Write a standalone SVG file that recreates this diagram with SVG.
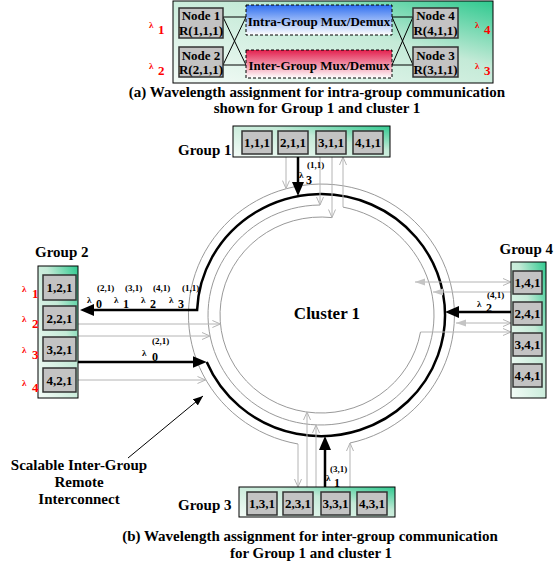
<svg xmlns="http://www.w3.org/2000/svg" width="555" height="569" viewBox="0 0 555 569">
<defs>
<linearGradient id="grp" x1="0" y1="1" x2="1" y2="0">
<stop offset="0" stop-color="#f4fbf7"/><stop offset="0.6" stop-color="#c4ead7"/><stop offset="1" stop-color="#2fc98f"/>
</linearGradient>
<linearGradient id="blue" x1="0" y1="0" x2="0" y2="1">
<stop offset="0" stop-color="#2f6ff0"/><stop offset="1" stop-color="#ffffff"/>
</linearGradient>
<linearGradient id="red" x1="0" y1="0" x2="0" y2="1">
<stop offset="0" stop-color="#e3204e"/><stop offset="1" stop-color="#ffffff"/>
</linearGradient>
<marker id="ab" markerUnits="userSpaceOnUse" markerWidth="14" markerHeight="12" viewBox="0 0 14 12" refX="3" refY="6" orient="auto"><path d="M0,0 L14,6 L0,12 z" fill="#000"/></marker>
<marker id="ap" markerUnits="userSpaceOnUse" markerWidth="10" markerHeight="8" viewBox="0 0 10 8" refX="10" refY="4" orient="auto"><path d="M0,0 L10,4 L0,8 z" fill="#000"/></marker>
<marker id="ag" markerUnits="userSpaceOnUse" markerWidth="10" markerHeight="8" viewBox="0 0 10 8" refX="9" refY="4" orient="auto"><path d="M1,0.5 L9,4 L1,7.5" fill="none" stroke="#b4b4b4" stroke-width="1"/></marker>
<marker id="af" markerUnits="userSpaceOnUse" markerWidth="10" markerHeight="8" viewBox="0 0 10 8" refX="10" refY="4" orient="auto-start-reverse"><path d="M0,0.5 L10,4 L0,7.5 z" fill="#c4c4c4"/></marker>
<style>
text{font-family:"Liberation Serif","Times New Roman",serif;font-weight:bold;fill:#000}
.t14{font-size:15px}
.cap{font-size:15px;text-anchor:middle}
.nd{font-size:13px;text-anchor:middle}
.sm{font-size:9px}
.lam{font-size:9px}
.dg{font-size:13px}
.d12{font-size:12px}
.red{fill:#ff0000}
.node{fill:#c3c3c3;stroke:#333;stroke-width:1.5}
.gbox{fill:url(#grp);stroke:#000;stroke-width:1}
.ring{fill:none;stroke:#999;stroke-width:1}
.gl{fill:none;stroke:#b4b4b4;stroke-width:1}
.bl{fill:none;stroke:#000;stroke-width:2.5}
.thin{fill:none;stroke:#000;stroke-width:1}
</style>
</defs>

<!-- (a) intra-group -->
<g id="panel-a">
<rect x="173" y="1" width="320" height="82" class="gbox"/>
<g class="thin">
<line x1="223" y1="17" x2="246" y2="17"/><line x1="223" y1="17" x2="246" y2="65"/>
<line x1="223" y1="65" x2="246" y2="17"/><line x1="223" y1="65" x2="246" y2="65"/>
<line x1="392" y1="17" x2="413" y2="17"/><line x1="392" y1="17" x2="413" y2="65"/>
<line x1="392" y1="65" x2="413" y2="17"/><line x1="392" y1="65" x2="413" y2="65"/>
</g>
</g>
<g id="node1a"><rect x="179" y="8" width="44" height="30" class="node"/><text x="201" y="20" class="nd">Node 1</text><text x="201" y="34.5" class="nd">R(1,1,1)</text></g>
<g id="node2a"><rect x="179" y="47" width="44" height="30" class="node"/><text x="201" y="59.5" class="nd">Node 2</text><text x="201" y="74" class="nd">R(2,1,1)</text></g>
<g id="node4a"><rect x="413" y="8" width="45" height="30" class="node"/><text x="435.5" y="20" class="nd">Node 4</text><text x="435.5" y="34.5" class="nd">R(4,1,1)</text></g>
<g id="node3a"><rect x="413" y="47" width="45" height="30" class="node"/><text x="435.5" y="59.5" class="nd">Node 3</text><text x="435.5" y="74" class="nd">R(3,1,1)</text></g>
<g id="intra"><rect x="246" y="5" width="146" height="30" fill="url(#blue)" stroke="#000" stroke-width="1" stroke-dasharray="3,2"/><text x="319" y="26" class="nd">Intra-Group Mux/Demux</text></g>
<g id="inter"><rect x="246" y="50" width="146" height="28" fill="url(#red)" stroke="#000" stroke-width="1" stroke-dasharray="3,2"/><text x="319" y="69.5" class="nd">Inter-Group Mux/Demux</text></g>
<g id="lambda-a">
<text x="149" y="28" class="lam red">λ</text><text x="158" y="34" class="dg red">1</text>
<text x="149" y="69" class="lam red">λ</text><text x="158" y="75" class="dg red">2</text>
<text x="475" y="28" class="lam red">λ</text><text x="484" y="34" class="dg red">4</text>
<text x="475" y="69" class="lam red">λ</text><text x="484" y="75" class="dg red">3</text>
</g>
<text x="317" y="97" class="cap">(a) Wavelength assignment for intra-group communication</text>
<text x="317" y="113" class="cap">shown for Group 1 and cluster 1</text>

<!-- connectors -->
<g id="connectors">
<path class="ring" d="M350,443 A133,131 0 1 0 298,444"/>
<path class="ring" d="M320,205 A113,110 0 1 0 343,207.1"/>
<path class="ring" d="M332,217.6 A101,98 0 1 0 420.5,332"/>
<path class="bl" d="M206.7,362 A124,121 0 1 0 197.1,310 L91,310" marker-end="url(#ab)"/>
<line class="gl" x1="286" y1="157" x2="286" y2="188.6" marker-end="url(#ag)"/>
<line class="bl" x1="298" y1="157" x2="298" y2="185" marker-end="url(#ab)"/>
<line class="gl" x1="320" y1="157" x2="320" y2="205" marker-end="url(#ag)"/>
<line class="gl" x1="332" y1="157" x2="332" y2="217.5" marker-end="url(#ag)"/>
<line class="gl" x1="343" y1="207" x2="343" y2="157" marker-end="url(#ag)"/>
<line class="gl" x1="298" y1="444" x2="298" y2="487" marker-end="url(#ag)"/>
<line class="gl" x1="307" y1="487" x2="307" y2="412" marker-end="url(#ag)"/>
<line class="gl" x1="316" y1="487" x2="316" y2="425" marker-end="url(#ag)"/>
<line class="bl" x1="325" y1="487" x2="325" y2="447" marker-end="url(#ab)"/>
<line class="gl" x1="350" y1="487" x2="350" y2="443" marker-end="url(#ag)"/>
<line class="gl" x1="78" y1="324" x2="220.4" y2="324" marker-end="url(#ag)"/>
<line class="gl" x1="78" y1="336" x2="210" y2="336" marker-end="url(#ag)"/>
<line class="bl" x1="78" y1="362" x2="195.7" y2="362" marker-end="url(#ab)"/>
<line class="gl" x1="78" y1="380" x2="205.5" y2="380" marker-end="url(#ag)"/>
<line class="gl" x1="415" y1="282" x2="511" y2="282" marker-start="url(#af)" marker-end="url(#ag)"/>
<line class="gl" x1="433" y1="292" x2="511" y2="292" marker-start="url(#af)"/>
<line class="bl" x1="511" y1="312" x2="456" y2="312" marker-end="url(#ab)"/>
<line class="gl" x1="456" y1="323" x2="511" y2="323" marker-start="url(#af)" marker-end="url(#ag)"/>
<line class="gl" x1="420.5" y1="332" x2="511" y2="332" marker-end="url(#ag)"/>
<line class="thin" x1="128" y1="458" x2="203" y2="396" marker-end="url(#ap)"/>
</g>

<g id="labels">
<text x="307" y="168" class="sm">(1,1)</text>
<text x="299" y="178" class="lam">λ</text><text x="306" y="184" class="d12">3</text>
<text x="97" y="291" class="sm">(2,1)</text><text x="125" y="291" class="sm">(3,1)</text><text x="153" y="291" class="sm">(4,1)</text><text x="182" y="291" class="sm">(1,1)</text>
<text x="87" y="303" class="lam">λ</text><text x="96" y="308" class="d12">0</text>
<text x="114" y="303" class="lam">λ</text><text x="123" y="308" class="d12">1</text>
<text x="141" y="303" class="lam">λ</text><text x="150" y="308" class="d12">2</text>
<text x="169" y="303" class="lam">λ</text><text x="178" y="308" class="d12">3</text>
<text x="152" y="344" class="sm">(2,1)</text>
<text x="142" y="356" class="lam">λ</text><text x="152" y="361" class="d12">0</text>
<text x="487" y="298" class="sm">(4,1)</text>
<text x="477" y="307" class="lam">λ</text><text x="486" y="312" class="d12">2</text>
<text x="330" y="472" class="sm">(3,1)</text>
<text x="326" y="481" class="lam">λ</text><text x="334" y="487" class="d12">1</text>
<text x="327" y="319" style="font-size:17px;text-anchor:middle">Cluster 1</text>
<text x="79" y="470" class="t14" text-anchor="middle">Scalable Inter-Group</text>
<text x="79" y="487" class="t14" text-anchor="middle">Remote</text>
<text x="79" y="504" class="t14" text-anchor="middle">Interconnect</text>
<text x="310" y="541" class="cap">(b) Wavelength assignment for inter-group communication</text>
<text x="311" y="558" class="cap">for Group 1 and cluster 1</text>
</g>

<g id="group1">
<text x="178" y="155" class="t14">Group 1</text>
<rect x="233" y="126" width="157" height="31" class="gbox"/>
<rect x="242" y="131" width="30" height="23" class="node"/><text x="257" y="147" class="nd">1,1,1</text>
<rect x="278" y="131" width="30" height="23" class="node"/><text x="293" y="147" class="nd">2,1,1</text>
<rect x="316" y="131" width="30" height="23" class="node"/><text x="331" y="147" class="nd">3,1,1</text>
<rect x="353" y="131" width="30" height="23" class="node"/><text x="368" y="147" class="nd">4,1,1</text>
</g>

<g id="group2">
<text x="35" y="257" class="t14">Group 2</text>
<rect x="38" y="266" width="40" height="132" class="gbox"/>
<rect x="43" y="275" width="33" height="25" class="node"/><text x="59.5" y="292" class="nd">1,2,1</text>
<rect x="43" y="306" width="33" height="24" class="node"/><text x="59.5" y="323" class="nd">2,2,1</text>
<rect x="43" y="337" width="33" height="24" class="node"/><text x="59.5" y="354" class="nd">3,2,1</text>
<rect x="43" y="368" width="33" height="24" class="node"/><text x="59.5" y="385" class="nd">4,2,1</text>
<text x="22" y="292" class="lam red">λ</text><text x="32" y="298" class="dg red">1</text>
<text x="22" y="322" class="lam red">λ</text><text x="32" y="328" class="dg red">2</text>
<text x="22" y="353" class="lam red">λ</text><text x="32" y="359" class="dg red">3</text>
<text x="22" y="386" class="lam red">λ</text><text x="32" y="392" class="dg red">4</text>
</g>

<g id="group3">
<text x="178" y="510" class="t14">Group 3</text>
<rect x="239" y="487" width="156" height="30" class="gbox"/>
<rect x="247" y="492" width="30" height="23" class="node"/><text x="262" y="508" class="nd">1,3,1</text>
<rect x="283" y="492" width="30" height="23" class="node"/><text x="298" y="508" class="nd">2,3,1</text>
<rect x="321" y="492" width="29" height="23" class="node"/><text x="335.5" y="508" class="nd">3,3,1</text>
<rect x="357" y="492" width="30" height="23" class="node"/><text x="372" y="508" class="nd">4,3,1</text>
</g>

<g id="group4">
<text x="553" y="254" class="t14" text-anchor="end">Group 4</text>
<rect x="511" y="262" width="35" height="136" class="gbox"/>
<rect x="513" y="271" width="29" height="23" class="node"/><text x="527.5" y="287" class="nd">1,4,1</text>
<rect x="513" y="302" width="29" height="23" class="node"/><text x="527.5" y="318" class="nd">2,4,1</text>
<rect x="513" y="333" width="29" height="23" class="node"/><text x="527.5" y="349" class="nd">3,4,1</text>
<rect x="513" y="364" width="29" height="23" class="node"/><text x="527.5" y="380" class="nd">4,4,1</text>
</g>
</svg>
